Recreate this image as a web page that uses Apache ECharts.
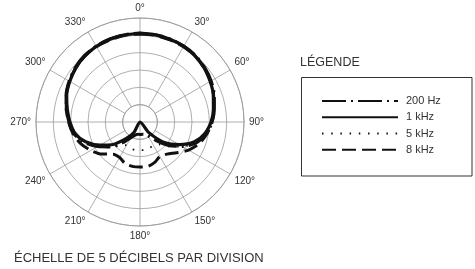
<!DOCTYPE html>
<html>
<head>
<meta charset="utf-8">
<script src="https://cdn.jsdelivr.net/npm/echarts@6/dist/echarts.min.js"></script>
<style>
html, body { margin: 0; padding: 0; background: #fff; }
#chart { width: 475px; height: 269px; }
</style>
</head>
<body>
<div id="chart"></div>
<script>
// angles in degrees, clockwise from 0° at the top
var angles = [0, 10, 20, 30, 40, 50, 60, 70, 80, 90, 100, 110, 120, 130, 140, 150, 160, 170, 180,
  190, 200, 210, 220, 230, 240, 250, 260, 270, 280, 290, 300, 310, 320, 330, 340, 350, 360];
var angleLabels = ['0°', '30°', '60°', '90°', '120°', '150°', '180°', '210°', '240°', '270°', '300°', '330°'];
var freqNames = ['200 Hz', '1 kHz', '5 kHz', '8 kHz'];

// levels in dB (outer circle 0 dB, centre -30 dB, 5 dB per division)
var level200 = [-4.3, -4.4, -4.5, -4.7, -5.0, -5.6, -6.3, -7.2, -8.2, -9.2,
  -10.5, -12.6, -15.8, -19.6, -23.2, -25.5, -26.2, -26.4, -26.4, -26.4,
  -26.0, -24.8, -22.2, -18.8, -15.8, -12.8, -10.6, -9.5, -8.4, -7.3,
  -6.4, -5.6, -5.0, -4.7, -4.5, -4.4, -4.3];
var level1k = [-4.4, -4.5, -4.6, -4.8, -5.2, -5.8, -6.6, -7.5, -8.5, -9.5,
  -11.0, -13.3, -17.0, -20.8, -26.0, -30, -30, -30, -30, -30,
  -30, -26.5, -23.7, -19.9, -16.7, -13.3, -11.0, -9.8, -8.7, -7.5,
  -6.6, -5.8, -5.2, -4.8, -4.6, -4.5, -4.4];
var level5k = [-4.5, -4.6, -4.7, -4.9, -5.3, -5.9, -6.7, -7.6, -8.6, -9.6,
  -11.2, -13.0, -15.8, -19.0, -21.5, -22.2, -22.0, -21.8, -21.9, -21.8,
  -22.0, -22.3, -21.2, -18.6, -15.8, -13.0, -11.2, -9.9, -8.8, -7.6,
  -6.7, -5.9, -5.3, -4.9, -4.7, -4.6, -4.5];
var level8k = [-4.6, -4.6, -4.8, -4.9, -5.2, -5.8, -6.5, -7.4, -8.4, -9.2,
  -10.4, -11.8, -13.8, -16.2, -17.9, -18.5, -17.6, -17.0, -17.0, -17.0,
  -17.3, -18.2, -17.9, -15.6, -13.6, -11.8, -10.4, -9.4, -8.4, -7.4,
  -6.5, -5.8, -5.2, -4.9, -4.8, -4.6, -4.6];

var font = 'Liberation Sans, Arial, Helvetica, sans-serif';
var gridColor = '#9a9a9a';
var inkColor = '#111';

function toPolar(levels) {
  return angles.map(function (a, i) { return [levels[i], a]; });
}

function curve(name, levels, width, dash) {
  return {
    name: name,
    type: 'line',
    coordinateSystem: 'polar',
    polarIndex: 2,
    data: toPolar(levels),
    symbol: 'none',
    smooth: 0.25,
    lineStyle: { color: inkColor, width: width, type: dash, cap: 'butt' },
    itemStyle: { color: 'rgba(0,0,0,0)' }
  };
}

var chart = echarts.init(document.getElementById('chart'));

var option = {
  animation: false,
  backgroundColor: '#fff',
  textStyle: { fontFamily: font },
  title: [
    {
      text: 'LÉGENDE', left: 300, top: 56, padding: 0,
      textStyle: { fontSize: 12.5, fontWeight: 'normal', color: '#333', fontFamily: font }
    },
    {
      text: 'ÉCHELLE DE 5 DÉCIBELS PAR DIVISION', left: 14, top: 252, padding: 0,
      textStyle: { fontSize: 13, fontWeight: 'normal', color: '#333', fontFamily: font }
    }
  ],
  graphic: [
    {
      type: 'rect',
      shape: { x: 301.5, y: 77.5, width: 170.5, height: 98.5 },
      style: { fill: 'none', stroke: '#333', lineWidth: 1 }
    }
  ],
  legend: {
    data: freqNames,
    orient: 'vertical',
    left: 316,
    top: 90.5,
    itemWidth: 76,
    itemHeight: 14,
    itemGap: 5,
    selectedMode: false,
    itemStyle: { opacity: 0 },
    textStyle: { fontSize: 11, color: '#333', fontFamily: font, padding: [0, 0, 0, 3] }
  },
  polar: [
    { center: [140, 122], radius: [17.33, 104] },
    { center: [140, 122], radius: 17.33 },
    { center: [140, 122], radius: 104 }
  ],
  angleAxis: [
    {
      polarIndex: 0, type: 'value', min: 0, max: 360, interval: 30,
      startAngle: 90, clockwise: true,
      axisLine: { lineStyle: { color: gridColor, width: 0.8 } },
      axisTick: { show: false },
      axisLabel: {
        margin: 5, color: '#333', fontSize: 10, fontFamily: font,
        formatter: function (v) { return v >= 360 ? '' : angleLabels[v / 30]; }
      },
      splitLine: { lineStyle: { color: gridColor, width: 0.8 } }
    },
    {
      polarIndex: 1, type: 'value', min: 0, max: 360, interval: 90,
      startAngle: 90, clockwise: true,
      axisLine: { show: false },
      axisTick: { show: false },
      axisLabel: { show: false },
      splitLine: { lineStyle: { color: gridColor, width: 0.8 } }
    },
    {
      polarIndex: 2, type: 'value', min: 0, max: 360,
      startAngle: 90, clockwise: true, show: false
    }
  ],
  radiusAxis: [
    {
      polarIndex: 0, type: 'value', min: 0, max: 5, interval: 1,
      axisLine: { show: false },
      axisTick: { show: false },
      axisLabel: { show: false },
      splitLine: { lineStyle: { color: gridColor, width: 0.8 } }
    },
    { polarIndex: 1, type: 'value', min: 0, max: 1, show: false },
    { polarIndex: 2, type: 'value', min: -30, max: 0, show: false }
  ],
  series: [
    curve('200 Hz', level200, 3, [24, 5, 2, 5]),
    curve('5 kHz', level5k, 1.8, [1.5, 7.7]),
    curve('8 kHz', level8k, 3, [14, 6]),
    curve('1 kHz', level1k, 3.2, 'solid')
  ]
};

chart.setOption(option);
</script>
</body>
</html>
